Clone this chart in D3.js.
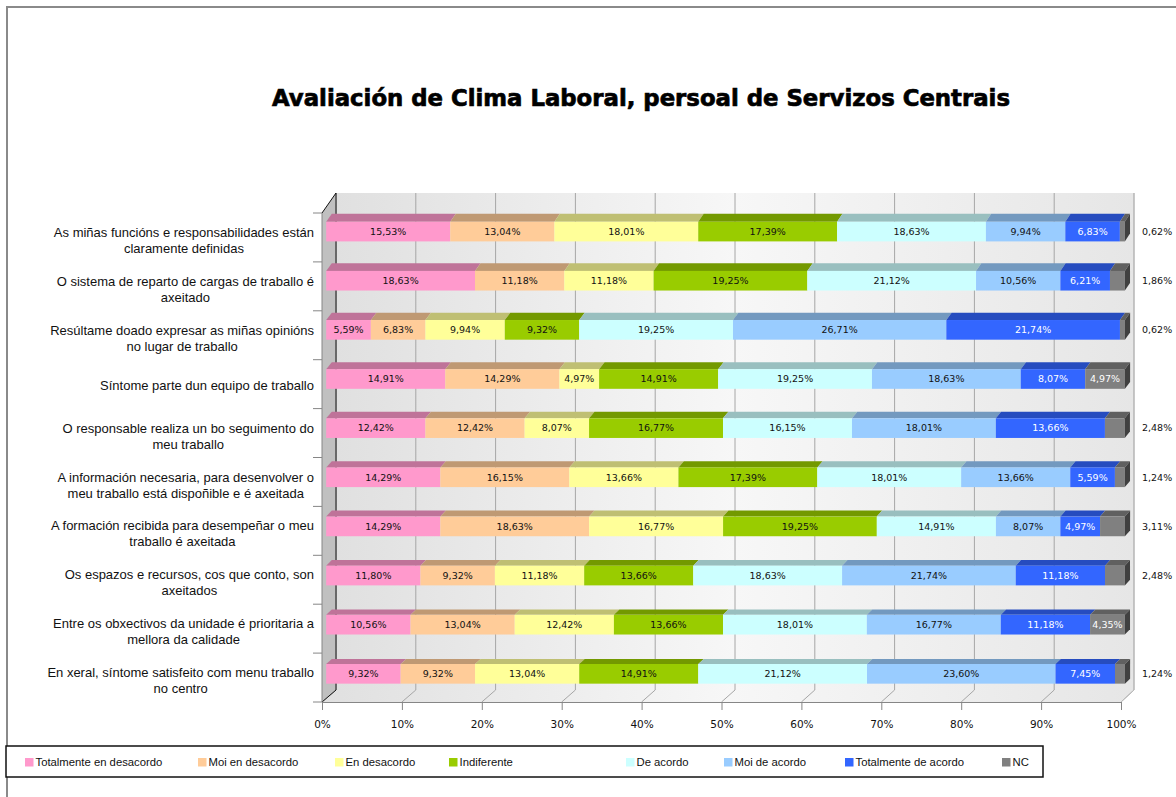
<!DOCTYPE html>
<html>
<head>
<meta charset="utf-8">
<script src="https://cdn.jsdelivr.net/npm/d3@7"></script>
<style>
    body { margin: 0; background: #fff; }
    svg { display: block; }
</style>
</head>
<body>
<svg id="chart" width="1176" height="797"></svg>
<script>
// category labels, already split in the lines used by the chart
const categories = [
    ["As miñas funcións e responsabilidades están", "claramente definidas"],
    ["O sistema de reparto de cargas de traballo é", "axeitado"],
    ["Resúltame doado expresar as miñas opinións", "no lugar de traballo"],
    ["Síntome parte dun equipo de traballo"],
    ["O responsable realiza un bo seguimento do", "meu traballo"],
    ["A información necesaria, para desenvolver o", "meu traballo está dispoñible e é axeitada"],
    ["A formación recibida para desempeñar o meu", "traballo é axeitada"],
    ["Os espazos e recursos, cos que conto, son", "axeitados"],
    ["Entre os obxectivos da unidade é prioritaria a", "mellora da calidade"],
    ["En xeral, síntome satisfeito com menu traballo", "no centro"]
];

const seriesNames = ["Totalmente en desacordo", "Moi en desacordo", "En desacordo", "Indiferente",
    "De acordo", "Moi de acordo", "Totalmente de acordo", "NC"];

// percentages, one array per series (rows top to bottom)
const totalmenteDesacordo = [15.53, 18.63, 5.59, 14.91, 12.42, 14.29, 14.29, 11.80, 10.56, 9.32];
const moiDesacordo = [13.04, 11.18, 6.83, 14.29, 12.42, 16.15, 18.63, 9.32, 13.04, 9.32];
const enDesacordo = [18.01, 11.18, 9.94, 4.97, 8.07, 13.66, 16.77, 11.18, 12.42, 13.04];
const indiferente = [17.39, 19.25, 9.32, 14.91, 16.77, 17.39, 19.25, 13.66, 13.66, 14.91];
const deAcordo = [18.63, 21.12, 19.25, 19.25, 16.15, 18.01, 14.91, 18.63, 18.01, 21.12];
const moiDeAcordo = [9.94, 10.56, 26.71, 18.63, 18.01, 13.66, 8.07, 21.74, 16.77, 23.60];
const totalmenteDeAcordo = [6.83, 6.21, 21.74, 8.07, 13.66, 5.59, 4.97, 11.18, 11.18, 7.45];
const nc = [0.62, 1.86, 0.62, 4.97, 2.48, 1.24, 3.11, 2.48, 4.35, 1.24];

const seriesValues = [totalmenteDesacordo, moiDesacordo, enDesacordo, indiferente,
    deAcordo, moiDeAcordo, totalmenteDeAcordo, nc];

const xTicks = [0, 10, 20, 30, 40, 50, 60, 70, 80, 90, 100];

const frontColors = ["#FF99CC", "#FFCC99", "#FFFF99", "#99CC00", "#CCFFFF", "#99CCFF", "#3366FF", "#808080"];
const topColors = ["#BF7399", "#BF9973", "#BFBF73", "#739900", "#99BFBF", "#7399BF", "#264CBF", "#606060"];
const sideColor = "#404040";
const labelColors = ["#111", "#111", "#111", "#111", "#111", "#111", "#fff", "#fff"];

// legend swatch positions (Excel lays the entries out in fixed columns)
const legendX = [25, 198, 335, 449, 626, 724, 845, 1002];

const svg = d3.select("#chart");
const fmt = v => v.toFixed(2).replace(".", ",") + "%";
let textFont = "Liberation Sans, Arial, sans-serif";
let numFont = "DejaVu Sans, Verdana, sans-serif";

// outer frame of the chart area
svg.append("path").attr("d", "M7,797V7H1176").attr("fill", "none")
    .attr("stroke", "#8a8a8a").attr("stroke-width", 2);

// title
svg.append("text")
    .attr("x", 641).attr("y", 106)
    .attr("text-anchor", "middle")
    .attr("font-family", "DejaVu Sans, sans-serif")
    .attr("font-weight", "bold")
    .attr("font-size", 23)
    .attr("stroke", "#000").attr("stroke-width", 0.7)
    .attr("textLength", 738)
    .attr("lengthAdjust", "spacingAndGlyphs")
    .text("Avaliación de Clima Laboral, persoal de Servizos Centrais");

// front and back planes of the 3D box
let rows = d3.range(categories.length);
let xFront = d3.scaleLinear().domain([0, 100]).range([322, 1121]);
let xBack = d3.scaleLinear().domain([0, 100]).range([336, 1134]);
let yFront = d3.scaleBand().domain(rows).range([213, 702]);
let yBack = d3.scaleBand().domain(rows).range([193, 690]);

// v: percent, r: row, f: fraction inside the band, t: depth (0 front, 1 back)
function proj(v, r, f, t) {
    let xf = xFront(v), xb = xBack(v);
    let yf = yFront(r) + f * yFront.bandwidth();
    let yb = yBack(r) + f * yBack.bandwidth();
    return [xf + (xb - xf) * t, yf + (yb - yf) * t];
}
const poly = pts => "M" + pts.map(p => p.join(",")).join("L") + "Z";
const last = rows.length - 1;

let defs = svg.append("defs");
let wallGrad = defs.append("linearGradient").attr("id", "wallGrad");
wallGrad.append("stop").attr("offset", "0%").attr("stop-color", "#e0e0e0");
wallGrad.append("stop").attr("offset", "50%").attr("stop-color", "#f7f7f7");
wallGrad.append("stop").attr("offset", "100%").attr("stop-color", "#e6e6e6");

// back wall
svg.append("path")
    .attr("d", poly([proj(0, 0, 0, 1), proj(100, 0, 0, 1), proj(100, last, 1, 1), proj(0, last, 1, 1)]))
    .attr("fill", "url(#wallGrad)");
// floor
svg.append("path")
    .attr("d", poly([proj(0, last, 1, 0), proj(100, last, 1, 0), proj(100, last, 1, 1), proj(0, last, 1, 1)]))
    .attr("fill", "url(#wallGrad)");

// gridlines on the back wall and floor
let grid = svg.append("g").attr("stroke", "#a6a6a6").attr("fill", "none");
xTicks.forEach(t => {
    let a = proj(t, 0, 0, 1), b = proj(t, last, 1, 1), c = proj(t, last, 1, 0);
    grid.append("path").attr("d", "M" + a + "L" + b + "L" + c);
});
// right edge of the wall
svg.append("path")
    .attr("d", "M" + proj(100, 0, 0, 1) + "L" + proj(100, last, 1, 1) + "L" + proj(100, last, 1, 0))
    .attr("fill", "none").attr("stroke", "#bdbdbd");

// left wall
svg.append("path")
    .attr("d", poly([proj(0, 0, 0, 0), proj(0, 0, 0, 1), proj(0, last, 1, 1), proj(0, last, 1, 0)]))
    .attr("fill", "#c0c0c0").attr("stroke", "none");
svg.append("path")
    .attr("d", "M" + proj(0, 0, 0, 0) + "L" + proj(0, 0, 0, 1) + "L" + proj(0, last, 1, 1) + "L" + proj(0, last, 1, 0))
    .attr("fill", "none").attr("stroke", "#111").attr("stroke-width", 1);

// category axis
let axisColor = "#868686";
svg.append("line")
    .attr("x1", xFront(0)).attr("x2", xFront(0))
    .attr("y1", yFront(0)).attr("y2", yFront(last) + yFront.bandwidth())
    .attr("stroke", axisColor);
svg.append("g").selectAll("line")
    .data(d3.range(categories.length + 1))
    .join("line")
    .attr("x1", xFront(0) - 9).attr("x2", xFront(0))
    .attr("y1", i => 213 + i * yFront.bandwidth())
    .attr("y2", i => 213 + i * yFront.bandwidth())
    .attr("stroke", axisColor);

// value axis on the floor front edge
let axisY = yFront(last) + yFront.bandwidth();
let xAxis = d3.axisBottom(xFront).tickValues(xTicks).tickSize(8).tickSizeOuter(0)
    .tickFormat(d => d + "%");
let gx = svg.append("g").attr("transform", `translate(0,${axisY})`).call(xAxis);
gx.select(".domain").attr("stroke", axisColor);
gx.selectAll(".tick line").attr("stroke", axisColor);
gx.selectAll(".tick text")
    .attr("font-family", numFont).attr("font-size", 10.5).attr("fill", "#111").attr("y", 19);

// category labels, lines centred on each other, block right-aligned
let catG = svg.append("g")
    .attr("font-family", textFont).attr("font-size", 13).attr("fill", "#111");
categories.forEach((lines, r) => {
    let cy = yFront(r) + yFront.bandwidth() / 2;
    let texts = lines.map((ln, k) => {
        let y = lines.length === 1 ? cy + 1 : cy - 5 + k * 16;
        return catG.append("text").attr("y", y).attr("dy", "0.35em").text(ln);
    });
    let w = d3.max(texts, t => t.node().getComputedTextLength());
    texts.forEach(t => t.attr("x", 314 - w / 2).attr("text-anchor", "middle"));
});

// stacked bars
let table = rows.map(r => {
    let o = {row: r};
    seriesNames.forEach((s, k) => o[s] = seriesValues[k][r]);
    return o;
});
let stacked = d3.stack().keys(seriesNames)(table);

const t0 = 0.3, t1 = 0.7, f0 = 0.3, f1 = 0.7;
let bars = svg.append("g");
stacked.forEach((layer, k) => {
    let g = bars.append("g");
    layer.forEach(d => {
        let r = d.data.row;
        let a = d[0], b = d[1];
        g.append("path")
            .attr("d", poly([proj(a, r, f0, t0), proj(b, r, f0, t0), proj(b, r, f0, t1), proj(a, r, f0, t1)]))
            .attr("fill", topColors[k]);
        let p = proj(a, r, f0, t0), q = proj(b, r, f1, t0);
        g.append("rect")
            .attr("x", p[0]).attr("y", p[1])
            .attr("width", q[0] - p[0]).attr("height", q[1] - p[1])
            .attr("fill", frontColors[k]);
        if (k === stacked.length - 1) {
            g.append("path")
                .attr("d", poly([proj(b, r, f0, t0), proj(b, r, f0, t1), proj(b, r, f1, t1), proj(b, r, f1, t0)]))
                .attr("fill", sideColor);
        }
    });
});

// data labels
let lab = svg.append("g").attr("font-family", numFont).attr("font-size", 9.5);
stacked.forEach((layer, k) => {
    layer.forEach(d => {
        let r = d.data.row;
        let v = d[1] - d[0];
        let c = proj((d[0] + d[1]) / 2, r, 0.5, t0);
        let outside = k === stacked.length - 1 && v < 4;
        lab.append("text")
            .attr("x", outside ? 1142 : c[0])
            .attr("y", c[1])
            .attr("dy", "0.35em")
            .attr("text-anchor", outside ? "start" : "middle")
            .attr("fill", outside ? "#111" : labelColors[k])
            .text(fmt(v));
    });
});

// legend
let leg = svg.append("g");
leg.append("rect")
    .attr("x", 6).attr("y", 746).attr("width", 1037).attr("height", 31)
    .attr("fill", "#fff").attr("stroke", "#111").attr("stroke-width", 1.5);
seriesNames.forEach((s, k) => {
    leg.append("rect").attr("x", legendX[k]).attr("y", 758).attr("width", 8.5).attr("height", 8.5)
        .attr("fill", frontColors[k]);
    leg.append("text")
        .attr("x", legendX[k] + 10.5).attr("y", 762.5).attr("dy", "0.35em")
        .attr("font-family", textFont).attr("font-size", 11.3).attr("fill", "#111")
        .text(s);
});
</script>
</body>
</html>
